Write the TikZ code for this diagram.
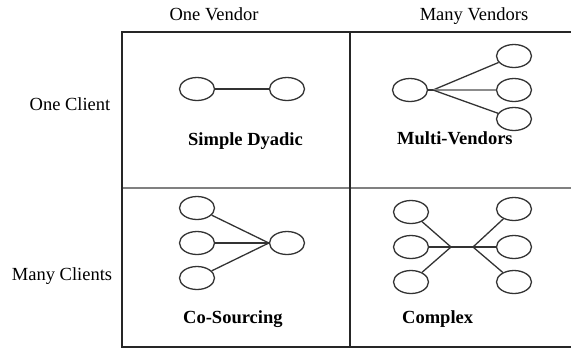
\documentclass[tikz,border=0pt]{standalone}
\usepackage{fontspec}
\setmainfont{Liberation Serif}
\usetikzlibrary{shapes.geometric}
\begin{document}
\begin{tikzpicture}[x=1pt,y=-1pt,
  oval/.style={draw=black!80, line width=1.3pt, ellipse, minimum width=35pt, minimum height=23pt, inner sep=0pt},
  link/.style={draw=black!80, line width=1.3pt},
  lightlink/.style={draw=black!45, line width=1.3pt},
  frame/.style={draw=black!85, line width=1.8pt},
  midline/.style={draw=black!50, line width=2pt},
  head/.style={font=\fontsize{18.5}{20}\selectfont, inner sep=0pt, anchor=base},
  cell/.style={font=\fontsize{18.5}{20}\selectfont\bfseries, inner sep=0pt, anchor=base west}]
\useasboundingbox (0,0) rectangle (571,349);
% frame
\coordinate (tl) at (122,32);
\coordinate (tr) at (571,32);
\coordinate (bl) at (122,347);
\coordinate (br) at (571,347);
\coordinate (mt) at (350,32);
\coordinate (mb) at (350,347);
\coordinate (ml) at (122,188);
\coordinate (mr) at (571,188);
\draw[midline] (ml) -- (mr);
\draw[frame] (tr) -- (tl) -- (bl) -- (br);
\draw[frame] (mt) -- (mb);
% headers
\node[head] (h1) at (214,20) {One Vendor};
\node[head] (h2) at (474,20) {Many Vendors};
\node[head] (r1) at (70,110) {One Client};
\node[head] (r2) at (62,280) {Many Clients};
% Simple Dyadic
\node[oval] (sdL) at (197,89) {};
\node[oval] (sdR) at (287,89) {};
\draw[link] (sdL) -- (sdR);
\node[cell] (sdT) at (188,145) {Simple Dyadic};
% Multi-Vendors
\node[oval] (mvL) at (410,90) {};
\node[oval] (mvA) at (514,56) {};
\node[oval] (mvB) at (514,90) {};
\node[oval] (mvC) at (514,119) {};
\coordinate (mvJ) at (433,90);
\draw[link] (mvL) -- (mvJ);
\draw[link] (mvJ) -- (mvA);
\draw[lightlink] (mvJ) -- (mvB);
\draw[link] (mvJ) -- (mvC);
\node[cell] (mvT) at (397,144) {Multi-Vendors};
% Co-Sourcing
\node[oval] (csA) at (197,208) {};
\node[oval] (csB) at (197,243) {};
\node[oval] (csC) at (197,278) {};
\node[oval] (csR) at (287,243) {};
\draw[link] (csA) -- (csR.west);
\draw[link] (csB) -- (csR.west);
\draw[link] (csC) -- (csR.west);
\node[cell] (csT) at (183,323) {Co-Sourcing};
% Complex
\node[oval] (cxA) at (411,212) {};
\node[oval] (cxB) at (411,247) {};
\node[oval] (cxC) at (411,282) {};
\node[oval] (cxD) at (514,209) {};
\node[oval] (cxE) at (514,247) {};
\node[oval] (cxF) at (514,282) {};
\coordinate (cxJL) at (451,247);
\coordinate (cxJR) at (473,247);
\draw[link] (cxA) -- (cxJL);
\draw[link] (cxB) -- (cxJL);
\draw[link] (cxC) -- (cxJL);
\draw[link] (cxJL) -- (cxJR);
\draw[link] (cxJR) -- (cxD);
\draw[link] (cxJR) -- (cxE);
\draw[link] (cxJR) -- (cxF);
\node[cell] (cxT) at (402,323) {Complex};
\end{tikzpicture}
\end{document}
